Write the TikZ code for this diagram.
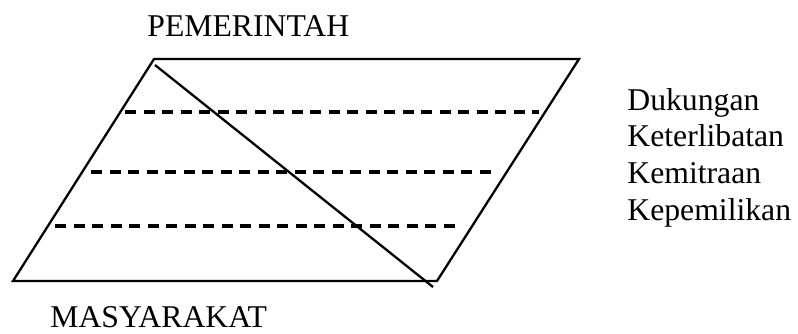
\documentclass[tikz,border=0pt]{standalone}
\usepackage{fontspec}
\setmainfont{Liberation Serif}
\begin{document}
\begin{tikzpicture}[x=0.5pt,y=-0.5pt,
  solidline/.style={line width=1.15pt, line join=miter},
  dashline/.style={line width=1.6pt, dash pattern=on 5.5pt off 3.75pt},
  lbl/.style={inner sep=0pt, anchor=base west, font=\fontsize{15.85pt}{18.35pt}\selectfont}]
\useasboundingbox (0,0) rectangle (798,333);
% parallelogram corners
\coordinate (tl) at (154,59);
\coordinate (tr) at (579,59);
\coordinate (br) at (437,281);
\coordinate (bl) at (13,281);
\draw[solidline] (tl) -- (tr) -- (br) -- (bl) -- cycle;
% diagonal
\coordinate (d1) at (155,65);
\coordinate (d2) at (433,287);
\draw[solidline] (d1) -- (d2);
% dashed levels
\coordinate (a1) at (125,112); \coordinate (a2) at (539,112);
\coordinate (b1) at (91,172);  \coordinate (b2) at (494,172);
\coordinate (c1) at (55,226);  \coordinate (c2) at (457,226);
\draw[dashline] (a1) -- (a2);
\draw[dashline] (b1) -- (b2);
\draw[dashline] (c1) -- (c2);
% labels
\node[lbl] (gov) at (147,36) {PEMERINTAH};
\node[lbl] (soc) at (50,327) {MASYARAKAT};
\node[lbl] (l1) at (627,110) {Dukungan};
\node[lbl] (l2) at (627,146.7) {Keterlibatan};
\node[lbl] (l3) at (627,183.4) {Kemitraan};
\node[lbl] (l4) at (627,220.1) {Kepemilikan};
\end{tikzpicture}
\end{document}
